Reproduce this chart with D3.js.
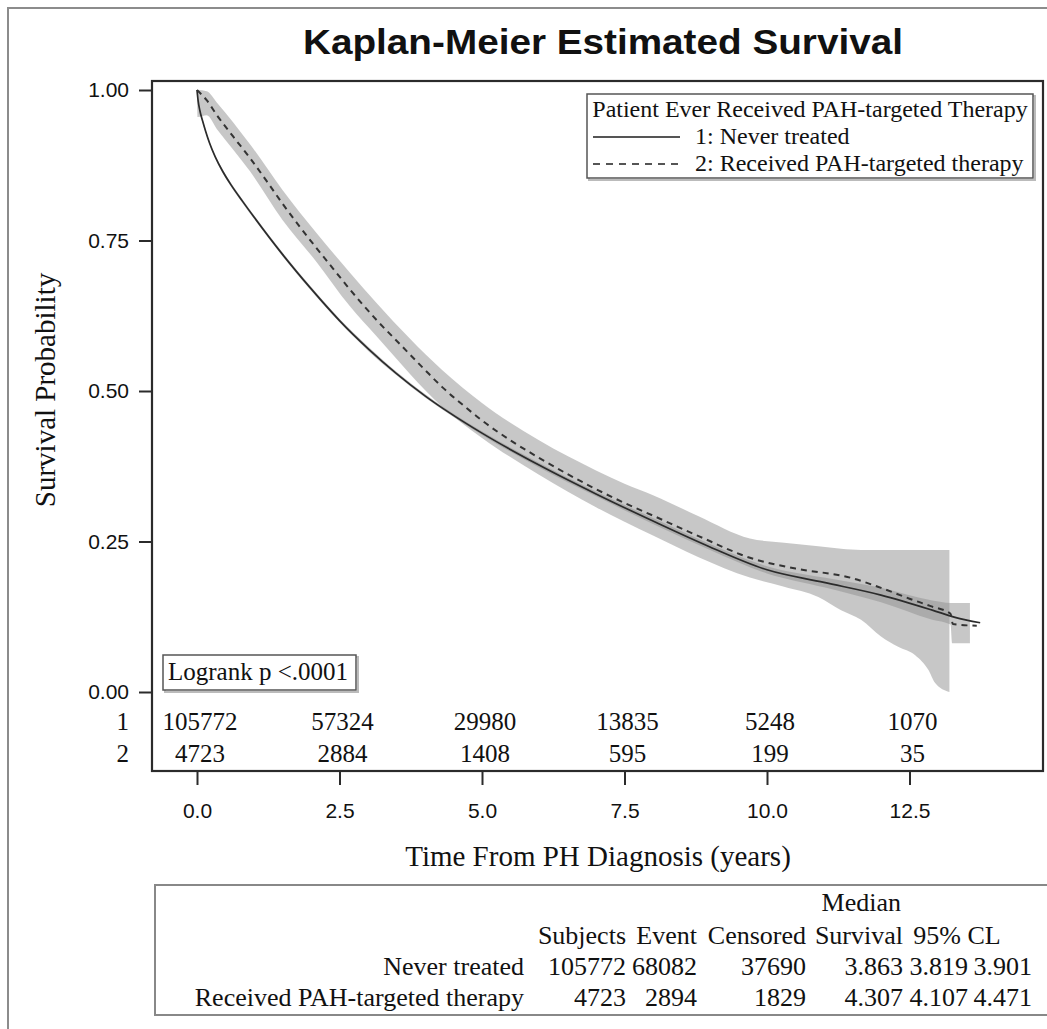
<!DOCTYPE html>
<html>
<head>
<meta charset="utf-8">
<title>Kaplan-Meier Estimated Survival</title>
<script src="https://d3js.org/d3.v7.min.js"></script>
<style>
  body { margin: 0; background: #fff; }
  .serif { font-family: "Liberation Serif", "DejaVu Serif", serif; fill: #111; }
  .sans { font-family: "Liberation Sans Narrow", "Liberation Sans", Arial, sans-serif; fill: #111; }
</style>
</head>
<body>
<svg id="chart" width="1047" height="1029"></svg>
<script>
  // group 1: never treated (solid)
  const timeNever = [0, 0.02, 0.05, 0.1, 0.15, 0.22, 0.32, 0.45, 0.6, 0.8, 1.0, 1.5, 2.0, 2.5, 3.0, 3.5, 4.0, 5.0, 6.0, 7.0, 8.0, 9.0, 10.0, 11.0, 12.0, 12.9, 13.3, 13.74];
  const survNever = [1, 0.982, 0.966, 0.948, 0.932, 0.912, 0.889, 0.865, 0.842, 0.815, 0.789, 0.727, 0.67, 0.617, 0.5705, 0.529, 0.492, 0.43, 0.377, 0.329, 0.284, 0.241, 0.203, 0.182, 0.161, 0.136, 0.124, 0.115];

  // group 2: received PAH-targeted therapy (dashed)
  const timeTreated = [0, 0.17, 0.35, 0.64, 0.93, 1.22, 1.51, 1.81, 2.1, 2.39, 2.68, 3.15, 3.6, 4.0, 4.307, 4.7, 5.0, 5.5, 6.0, 6.5, 7.0, 7.5, 8.0, 8.8, 9.7, 10.5, 11.46, 12.0, 12.5, 12.86, 13.22, 13.26, 13.68];
  const survTreated = [1, 0.983, 0.958, 0.922, 0.887, 0.849, 0.81, 0.772, 0.737, 0.703, 0.669, 0.618, 0.574, 0.535, 0.506, 0.474, 0.451, 0.418, 0.389, 0.362, 0.337, 0.314, 0.293, 0.259, 0.223, 0.205, 0.19, 0.173, 0.155, 0.143, 0.13, 0.113, 0.11];

  // 95% confidence bands
  const bandTreatedTime = [0, 0.01, 0.17, 0.35, 0.93, 1.5, 2.1, 2.68, 3.15, 4.3, 5.0, 6.0, 7.0, 7.5, 8.0, 8.8, 9.7, 10.3, 10.9, 11.3, 11.65, 12.0, 12.3, 12.6, 12.83, 12.95, 13.2];
  const bandTreatedLow = [1, 0.955, 0.958, 0.935, 0.865, 0.784, 0.714, 0.641, 0.591, 0.474, 0.422, 0.361, 0.307, 0.283, 0.26, 0.224, 0.19, 0.175, 0.158, 0.136, 0.12, 0.092, 0.075, 0.061, 0.037, 0.015, 0.0];
  const bandTreatedHigh = [1, 1, 0.998, 0.979, 0.91, 0.834, 0.762, 0.697, 0.646, 0.535, 0.48, 0.418, 0.368, 0.346, 0.327, 0.292, 0.255, 0.248, 0.242, 0.238, 0.236, 0.236, 0.236, 0.236, 0.236, 0.236, 0.236];

  const bandNeverTime = [0, 0.02, 0.05, 0.1, 0.15, 0.22, 0.32, 0.45, 0.6, 0.8, 1.0, 1.5, 2.0, 2.5, 3.0, 3.5, 4.0, 5.0, 6.0, 7.0, 8.0, 9.0, 10.0, 11.0, 12.0, 12.9, 13.22, 13.25, 13.56];
  const bandNeverLow = [1, 0.98, 0.964, 0.946, 0.93, 0.91, 0.887, 0.862, 0.839, 0.812, 0.786, 0.724, 0.667, 0.614, 0.567, 0.526, 0.489, 0.427, 0.373, 0.325, 0.279, 0.236, 0.197, 0.174, 0.149, 0.12, 0.112, 0.081, 0.081];
  const bandNeverHigh = [1, 0.984, 0.968, 0.95, 0.934, 0.914, 0.891, 0.868, 0.845, 0.818, 0.792, 0.73, 0.673, 0.62, 0.574, 0.532, 0.495, 0.433, 0.381, 0.333, 0.289, 0.246, 0.209, 0.19, 0.173, 0.152, 0.148, 0.148, 0.148];

  // numbers at risk
  const riskTimes = [0, 2.5, 5, 7.5, 10, 12.5];
  const riskNever = [105772, 57324, 29980, 13835, 5248, 1070];
  const riskTreated = [4723, 2884, 1408, 595, 199, 35];

  const xTicks = [0, 2.5, 5, 7.5, 10, 12.5];
  const yTicks = [0, 0.25, 0.5, 0.75, 1];

  // summary table
  const groupNames = ["Never treated", "Received PAH-targeted therapy"];
  const subjects = [105772, 4723];
  const events = [68082, 2894];
  const censored = [37690, 1829];
  const medianSurv = ["3.863", "4.307"];
  const clLow = ["3.819", "4.107"];
  const clHigh = ["3.901", "4.471"];

  const svg = d3.select("#chart");

  const x = d3.scaleLinear().domain([0, 12.5]).range([197, 909.5]);
  const y = d3.scaleLinear().domain([0, 1]).range([692, 90]);

  const frame = { left: 152, top: 81, right: 1043, bottom: 771 };

  // outer border
  svg.append("rect")
    .attr("x", 8).attr("y", 8).attr("width", 1100).attr("height", 1100)
    .attr("fill", "none").attr("stroke", "#8c8c8c").attr("stroke-width", 2);

  // title
  svg.append("text")
    .attr("x", 603).attr("y", 54)
    .attr("text-anchor", "middle")
    .attr("font-family", "Liberation Sans, Arial, sans-serif")
    .attr("font-weight", "bold")
    .attr("font-size", 35)
    .attr("textLength", 600)
    .attr("lengthAdjust", "spacingAndGlyphs")
    .attr("fill", "#111")
    .text("Kaplan-Meier Estimated Survival");

  // bands
  const bandArea = d3.area()
    .x(d => x(d[0]))
    .y0(d => y(d[1]))
    .y1(d => y(d[2]))
    .curve(d3.curveMonotoneX);

  const bandNever = bandNeverTime.map((t, i) => [t, bandNeverLow[i], bandNeverHigh[i]]);
  const bandTreated = bandTreatedTime.map((t, i) => [t, bandTreatedLow[i], bandTreatedHigh[i]]);

  svg.append("path")
    .datum(bandTreated)
    .attr("d", bandArea)
    .attr("fill", "#8f8f8f")
    .attr("fill-opacity", 0.5);

  svg.append("path")
    .datum(bandNever)
    .attr("d", bandArea)
    .attr("fill", "#8f8f8f")
    .attr("fill-opacity", 0.5);

  // survival curves
  const line = d3.line()
    .x(d => x(d[0]))
    .y(d => y(d[1]))
    .curve(d3.curveMonotoneX);

  svg.append("path")
    .datum(timeNever.map((t, i) => [t, survNever[i]]))
    .attr("d", line)
    .attr("fill", "none")
    .attr("stroke", "#2b2b2b")
    .attr("stroke-width", 1.7);

  svg.append("path")
    .datum(timeTreated.map((t, i) => [t, survTreated[i]]))
    .attr("d", line)
    .attr("fill", "none")
    .attr("stroke", "#333")
    .attr("stroke-width", 2)
    .attr("stroke-dasharray", "6,5");

  // frame
  svg.append("rect")
    .attr("x", frame.left).attr("y", frame.top)
    .attr("width", frame.right - frame.left)
    .attr("height", frame.bottom - frame.top)
    .attr("fill", "none").attr("stroke", "#2b2b2b").attr("stroke-width", 2.2);

  // y axis
  const yAxis = d3.axisLeft(y)
    .tickValues(yTicks)
    .tickFormat(d3.format(".2f"))
    .tickSize(13)
    .tickPadding(10);

  const gy = svg.append("g")
    .attr("transform", `translate(${frame.left},0)`)
    .call(yAxis);
  gy.select(".domain").remove();
  gy.selectAll(".tick line").attr("stroke", "#2b2b2b").attr("stroke-width", 2);
  gy.selectAll(".tick text")
    .attr("class", "sans")
    .attr("font-size", 21)
    .attr("fill", "#111");

  // x axis (below at-risk rows)
  const xAxis = d3.axisBottom(x)
    .tickValues(xTicks)
    .tickFormat(d3.format(".1f"))
    .tickSize(14)
    .tickPadding(18);

  const gx = svg.append("g")
    .attr("transform", `translate(0,${frame.bottom})`)
    .call(xAxis);
  gx.select(".domain").remove();
  gx.selectAll(".tick line").attr("stroke", "#2b2b2b").attr("stroke-width", 2);
  gx.selectAll(".tick text")
    .attr("class", "sans")
    .attr("font-size", 21)
    .attr("fill", "#111");

  // axis labels
  svg.append("text")
    .attr("class", "serif")
    .attr("x", 598).attr("y", 866)
    .attr("text-anchor", "middle")
    .attr("font-size", 29)
    .text("Time From PH Diagnosis (years)");

  svg.append("text")
    .attr("class", "serif")
    .attr("transform", "translate(55,390) rotate(-90)")
    .attr("text-anchor", "middle")
    .attr("font-size", 29)
    .text("Survival Probability");

  // numbers at risk
  const riskRows = [
    { label: "1", values: riskNever, yPos: 730 },
    { label: "2", values: riskTreated, yPos: 762 }
  ];
  riskRows.forEach(row => {
    svg.append("text")
      .attr("class", "serif")
      .attr("x", 129).attr("y", row.yPos)
      .attr("text-anchor", "end")
      .attr("font-size", 25)
      .text(row.label);
    svg.append("g")
      .selectAll("text")
      .data(riskTimes)
      .join("text")
      .attr("class", "serif")
      .attr("x", d => x(d) + 3)
      .attr("y", row.yPos)
      .attr("text-anchor", "middle")
      .attr("font-size", 25)
      .text((d, i) => row.values[i]);
  });

  // legend
  const legend = svg.append("g");
  legend.append("rect")
    .attr("x", 589).attr("y", 96).attr("width", 446).attr("height", 84)
    .attr("fill", "none").attr("stroke", "#bbb").attr("stroke-width", 2);
  legend.append("rect")
    .attr("x", 587).attr("y", 94).attr("width", 446).attr("height", 84)
    .attr("fill", "#fff").attr("stroke", "#555").attr("stroke-width", 1.5);
  legend.append("text")
    .attr("class", "serif")
    .attr("x", 810).attr("y", 117)
    .attr("text-anchor", "middle")
    .attr("font-size", 24)
    .text("Patient Ever Received PAH-targeted Therapy");

  const legendItems = [
    { text: "1: Never treated", dash: null, yPos: 137 },
    { text: "2: Received PAH-targeted therapy", dash: "7,6", yPos: 164 }
  ];
  legendItems.forEach(it => {
    legend.append("line")
      .attr("x1", 593).attr("x2", 680)
      .attr("y1", it.yPos).attr("y2", it.yPos)
      .attr("stroke", "#555")
      .attr("stroke-width", 2)
      .attr("stroke-dasharray", it.dash);
    legend.append("text")
      .attr("class", "serif")
      .attr("x", 695).attr("y", it.yPos + 7)
      .attr("font-size", 24)
      .text(it.text);
  });

  // logrank box
  svg.append("rect")
    .attr("x", 165).attr("y", 657).attr("width", 193).attr("height", 35)
    .attr("fill", "none").attr("stroke", "#bbb").attr("stroke-width", 2);
  svg.append("rect")
    .attr("x", 163).attr("y", 655).attr("width", 193).attr("height", 35)
    .attr("fill", "#fff").attr("stroke", "#555").attr("stroke-width", 1.5);
  svg.append("text")
    .attr("class", "serif")
    .attr("x", 168).attr("y", 680)
    .attr("font-size", 25)
    .text("Logrank p <.0001");

  // summary table
  const tbl = svg.append("g");
  tbl.append("rect")
    .attr("x", 155).attr("y", 885).attr("width", 1000).attr("height", 130)
    .attr("fill", "none").attr("stroke", "#888").attr("stroke-width", 2);

  const colRight = [524, 626, 697, 806, 903, 968, 1032];
  const tblFont = 26;
  tbl.append("text").attr("class", "serif")
    .attr("x", 901).attr("y", 911).attr("text-anchor", "end")
    .attr("font-size", tblFont).text("Median");
  const headers = ["Subjects", "Event", "Censored", "Survival"];
  headers.forEach((h, i) => {
    tbl.append("text").attr("class", "serif")
      .attr("x", colRight[i + 1]).attr("y", 944).attr("text-anchor", "end")
      .attr("font-size", tblFont).text(h);
  });
  tbl.append("text").attr("class", "serif")
    .attr("x", 957).attr("y", 944).attr("text-anchor", "middle")
    .attr("font-size", tblFont).text("95% CL");

  groupNames.forEach((g, r) => {
    const vals = [g, subjects[r], events[r], censored[r], medianSurv[r], clLow[r], clHigh[r]];
    vals.forEach((v, c) => {
      tbl.append("text").attr("class", "serif")
        .attr("x", colRight[c]).attr("y", 975 + r * 31)
        .attr("text-anchor", "end")
        .attr("font-size", tblFont)
        .text(v);
    });
  });
</script>
</body>
</html>
